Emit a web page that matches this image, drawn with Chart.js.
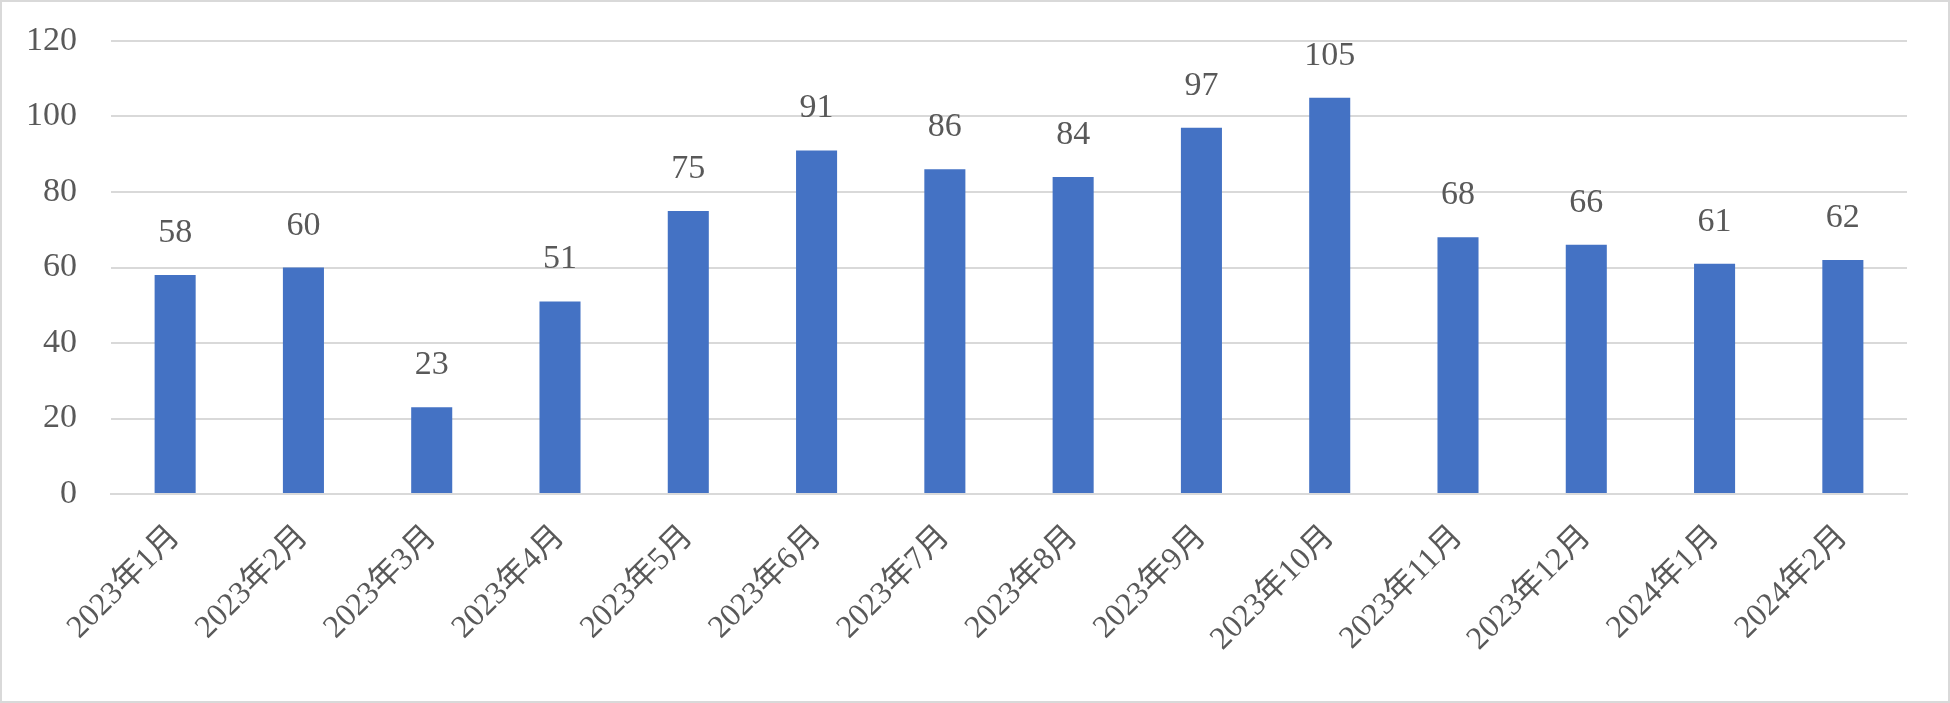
<!DOCTYPE html>
<html><head><meta charset="utf-8">
<script src="https://cdn.jsdelivr.net/npm/chart.js@4"></script>
<style>html,body{margin:0;padding:0;background:#fff}#wrap{position:absolute;left:0;top:0;width:1950px;height:703px}</style>
</head><body><div id="wrap"><canvas id="c" width="1950" height="703"></canvas></div>
<script>
const categories = ["2023年1月","2023年2月","2023年3月","2023年4月","2023年5月","2023年6月","2023年7月","2023年8月","2023年9月","2023年10月","2023年11月","2023年12月","2024年1月","2024年2月"];
const values = [58,60,23,51,75,91,86,84,97,105,68,66,61,62];
const yTicks = [0,20,40,60,80,100,120];

const FONT = "'Liberation Serif', 'Noto Sans CJK JP', serif";
const TEXT = '#595959';
const target = {left:111, top:41, right:1907, bottom:494};

const bgBorder = {
  id:'bgBorder',
  beforeDraw(chart){
    const c = chart.ctx;
    c.save(); c.fillStyle='#fff'; c.fillRect(0,0,chart.width,chart.height);
    c.strokeStyle='#d9d9d9'; c.lineWidth=2; c.strokeRect(1,1,chart.width-2,chart.height-2);
    c.restore();
  }
};
const dataLabels = {
  id:'dataLabels',
  afterDatasetsDraw(chart){
    const c = chart.ctx; const meta = chart.getDatasetMeta(0);
    c.save(); c.font = '34px ' + FONT; c.fillStyle = TEXT; c.textAlign='center'; c.textBaseline='alphabetic';
    meta.data.forEach((bar,i)=>{ c.fillText(String(values[i]), bar.x, bar.y - 33); });
    c.restore();
  }
};

const chart = new Chart(document.getElementById('c'), {
  type:'bar',
  data:{ labels: categories, datasets:[{ data: values, backgroundColor:'#4472C4', borderWidth:0, barPercentage:0.32, categoryPercentage:1 }]},
  options:{
    responsive:false, animation:false, devicePixelRatio:1,
    layout:{ padding:{ left:0, top:target.top, right:1950-target.right, bottom:0 } },
    plugins:{ legend:{display:false}, tooltip:{enabled:false} },
    scales:{
      x:{
        grid:{ display:false, drawTicks:false },
        border:{ display:true, color:'#d9d9d9', width:2 },
        ticks:{ color:TEXT, font:{family:FONT, size:32}, minRotation:45, maxRotation:45, padding:24, autoSkip:false },
        afterFit(s){ s.height = 703 - target.bottom; s.paddingLeft = 0; s.paddingRight = 0; }
      },
      y:{
        min:0, max:120,
        afterBuildTicks(s){ s.ticks = yTicks.map(v=>({value:v})); },
        grid:{ color:'#d9d9d9', lineWidth:2, drawTicks:false },
        border:{ display:false },
        ticks:{ color:TEXT, font:{family:FONT, size:34}, padding:34 },
        afterFit(s){ s.width = target.left; s.paddingTop = 0; s.paddingBottom = 0; }
      }
    }
  },
  plugins:[bgBorder, dataLabels]
});
</script></body></html>
